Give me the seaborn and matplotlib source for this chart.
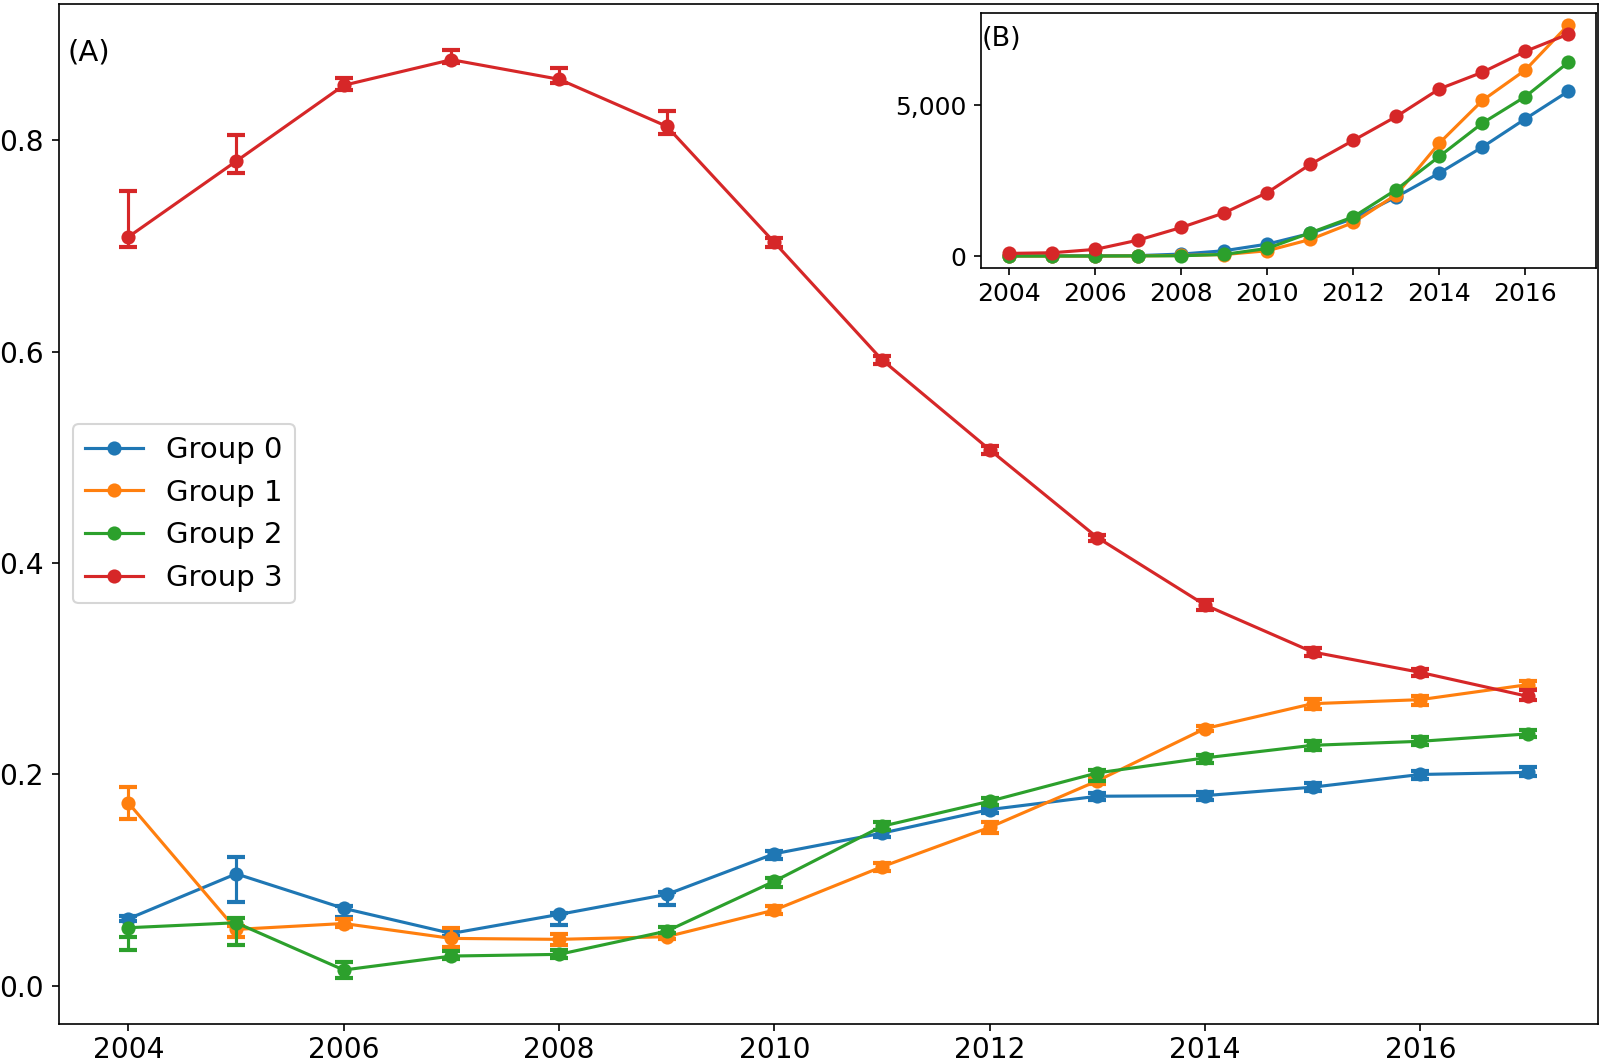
import matplotlib
matplotlib.use("Agg")
import matplotlib.pyplot as plt
import matplotlib.ticker as mticker
import seaborn as sns
import numpy as np

years = list(range(2004, 2018))
groups = ["Group 0", "Group 1", "Group 2", "Group 3"]
colors = ["#1f77b4", "#ff7f0e", "#2ca02c", "#d62728"]

# Panel A: share per group, with error bar bounds
g0_val = [0.0635, 0.106, 0.0733, 0.0496, 0.0676, 0.0865, 0.125, 0.1445, 0.1668, 0.1794, 0.180, 0.188, 0.200, 0.202]
g0_lo = [0.061, 0.0796, 0.0654, 0.047, 0.0572, 0.0764, 0.120, 0.141, 0.1637, 0.1756, 0.1756, 0.184, 0.1958, 0.1983]
g0_hi = [0.066, 0.122, 0.076, 0.052, 0.069, 0.0887, 0.128, 0.147, 0.1684, 0.1826, 0.1832, 0.192, 0.203, 0.2072]

g1_val = [0.173, 0.0534, 0.059, 0.0449, 0.044, 0.0465, 0.0717, 0.1127, 0.150, 0.194, 0.2434, 0.267, 0.2708, 0.285]
g1_lo = [0.158, 0.046, 0.0556, 0.0367, 0.0386, 0.044, 0.0676, 0.1085, 0.145, 0.191, 0.241, 0.262, 0.266, 0.2805]
g1_hi = [0.188, 0.057, 0.063, 0.0543, 0.0487, 0.049, 0.076, 0.1158, 0.155, 0.197, 0.246, 0.2717, 0.2746, 0.288]

g2_val = [0.055, 0.0597, 0.015, 0.0282, 0.0298, 0.0518, 0.099, 0.151, 0.1747, 0.2015, 0.2157, 0.2276, 0.2314, 0.2384]
g2_lo = [0.034, 0.039, 0.0078, 0.025, 0.026, 0.0496, 0.0938, 0.147, 0.171, 0.1936, 0.211, 0.2235, 0.228, 0.235]
g2_hi = [0.046, 0.0645, 0.023, 0.033, 0.034, 0.056, 0.102, 0.155, 0.178, 0.2046, 0.2188, 0.2314, 0.235, 0.2417]

g3_val = [0.7087, 0.7802, 0.8521, 0.8763, 0.8578, 0.8133, 0.7034, 0.5923, 0.5073, 0.4242, 0.3604, 0.3159, 0.2966, 0.2739]
g3_lo = [0.6993, 0.7692, 0.848, 0.8735, 0.8543, 0.8064, 0.6995, 0.5885, 0.5035, 0.421, 0.3556, 0.312, 0.2935, 0.2708]
g3_hi = [0.7519, 0.8048, 0.859, 0.8852, 0.8688, 0.8278, 0.7073, 0.5961, 0.511, 0.427, 0.3653, 0.3195, 0.300, 0.2796]

# Panel B: counts per group
g0_cnt = [5, 10, 10, 15, 66, 177, 397, 751, 1247, 1965, 2759, 3620, 4559, 5475]
g1_cnt = [0, 0, 0, 5, 20, 50, 177, 552, 1115, 2042, 3753, 5166, 6181, 7682]
g2_cnt = [0, 0, 0, 5, 10, 55, 254, 773, 1302, 2208, 3311, 4415, 5298, 6435]
g3_cnt = [88, 110, 221, 530, 949, 1435, 2108, 3046, 3841, 4636, 5552, 6104, 6799, 7373]

vals = [g0_val, g1_val, g2_val, g3_val]
los = [g0_lo, g1_lo, g2_lo, g3_lo]
his = [g0_hi, g1_hi, g2_hi, g3_hi]
cnts = [g0_cnt, g1_cnt, g2_cnt, g3_cnt]

plt.rcParams["font.family"] = ["DejaVu Sans"]

fig = plt.figure(figsize=(1603 / 150, 1062 / 150), dpi=150)
ax = fig.add_axes([0.0365, 0.0358, 0.9603, 0.9605])

for name, c, v, lo, hi in zip(groups, colors, vals, los, his):
    sns.lineplot(x=years, y=v, ax=ax, color=c, marker="o", markersize=6.8,
                 markeredgecolor=c, markeredgewidth=0, linewidth=1.5, label=name)
    lo_a = np.array(lo)
    hi_a = np.array(hi)
    ax.errorbar(years, (lo_a + hi_a) / 2, yerr=(hi_a - lo_a) / 2, fmt="none",
                ecolor=c, elinewidth=1.5, capsize=4.5, capthick=2)

ax.tick_params(labelsize=13.5)
ax.tick_params(axis="x", pad=2.5)
ax.legend(loc="center left", fontsize=14)
ax.text(0.006, 0.966, "(A)", transform=ax.transAxes, fontsize=14, va="top", ha="left")
ax.set_xlabel("")
ax.set_ylabel("")

axin = fig.add_axes([0.6121, 0.748, 0.3838, 0.2396])
for name, c, cnt in zip(groups, colors, cnts):
    sns.lineplot(x=years, y=cnt, ax=axin, color=c, marker="o", markersize=6.8,
                 markeredgecolor=c, markeredgewidth=0, linewidth=1.5, legend=False)
axin.set_yticks([0, 5000])
axin.yaxis.set_major_formatter(mticker.FuncFormatter(lambda v, p: f"{int(v):,}"))
axin.set_xticks(list(range(2004, 2018, 2)))
axin.tick_params(labelsize=12)
axin.text(0.0, 0.95, "(B)", transform=axin.transAxes, fontsize=13, va="top", ha="left")
axin.set_xlabel("")
axin.set_ylabel("")

fig.savefig("out.png", dpi=150)
